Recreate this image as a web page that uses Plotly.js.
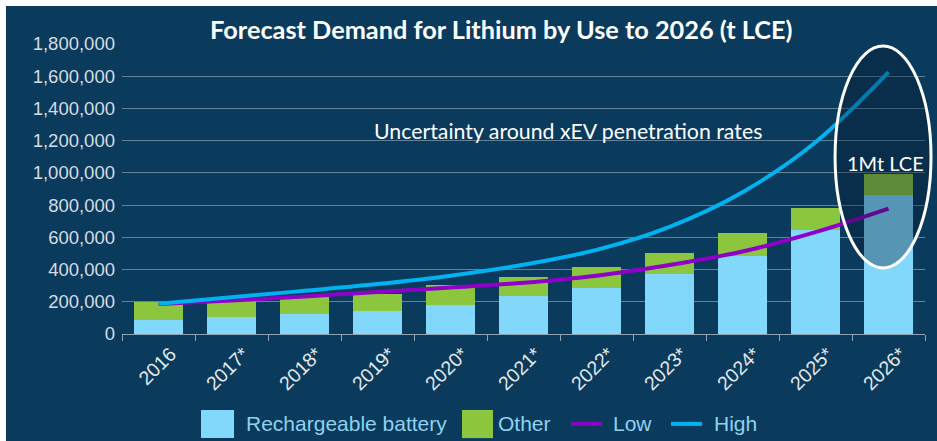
<!DOCTYPE html>
<html>
<head>
<meta charset="utf-8">
<script src="https://cdn.plot.ly/plotly-3.0.1.min.js"></script>
<style>
  body { margin: 0; background: #ffffff; }
  #chart { position: absolute; left: 6px; top: 6px; width: 931px; height: 435px; }
</style>
</head>
<body>
<div id="chart"></div>
<script>
// years on the x axis (* = forecast)
var years = ['2016', '2017*', '2018*', '2019*', '2020*', '2021*', '2022*', '2023*', '2024*', '2025*', '2026*'];

// stacked bars, t LCE
var battery = [85000, 104000, 122000, 140000, 180000, 233000, 288000, 372000, 482000, 643000, 860000];
var other = [115000, 101000, 106000, 110000, 125000, 123000, 130000, 128000, 143000, 137000, 135000];

// demand scenarios, t LCE
var low = [186000, 208000, 233000, 260000, 288000, 318000, 362000, 428000, 512000, 632000, 778000];
var high = [188000, 228000, 268000, 310000, 362000, 430000, 522000, 665000, 880000, 1190000, 1625000];

var yTicks = [0, 200000, 400000, 600000, 800000, 1000000, 1200000, 1400000, 1600000, 1800000];

var colBattery = '#82d8fb';
var colOther = '#8cc63f';
var colLow = '#8f00c9';
var colHigh = '#00b2f0';

var data = [
    { type: 'bar', name: 'Rechargeable battery', x: years, y: battery, marker: { color: colBattery } },
    { type: 'bar', name: 'Other', x: years, y: other, marker: { color: colOther } },
    { type: 'scatter', mode: 'lines', name: 'Low', x: years, y: low,
      line: { color: colLow, width: 4, shape: 'spline' } },
    { type: 'scatter', mode: 'lines', name: 'High', x: years, y: high,
      line: { color: colHigh, width: 4, shape: 'spline' } }
];

// legend drawn by hand so the swatches can be big squares like the original
var legendFont = { family: 'Arial', size: 21, color: '#8fd2ee' };
var legY = -0.31;
var legShapes = [
    { type: 'rect', xref: 'paper', yref: 'paper', x0: 0.0984, x1: 0.1395, y0: -0.262, y1: -0.359,
      fillcolor: colBattery, line: { width: 0 } },
    { type: 'rect', xref: 'paper', yref: 'paper', x0: 0.4234, x1: 0.4620, y0: -0.262, y1: -0.359,
      fillcolor: colOther, line: { width: 0 } },
    { type: 'line', xref: 'paper', yref: 'paper', x0: 0.5592, x1: 0.5978, y0: legY, y1: legY,
      line: { color: colLow, width: 4 } },
    { type: 'line', xref: 'paper', yref: 'paper', x0: 0.6837, x1: 0.7223, y0: legY, y1: legY,
      line: { color: colHigh, width: 4 } }
];
var legText = [[data[0].name, 0.152], [data[1].name, 0.466], [data[2].name, 0.609], [data[3].name, 0.735]];
var legAnn = legText.map(function (t) {
    return { text: t[0], xref: 'paper', yref: 'paper', x: t[1], y: legY,
             xanchor: 'left', yanchor: 'middle', showarrow: false, font: legendFont };
});

var layout = {
    width: 931,
    height: 435,
    margin: { l: 116, r: 12, t: 38, b: 107 },
    paper_bgcolor: '#0a3a5c',
    plot_bgcolor: '#0a3a5c',
    barmode: 'stack',
    bargap: 0.34,
    showlegend: false,
    title: {
        text: 'Forecast Demand for Lithium by Use to 2026 (t LCE)',
        font: { family: 'Lato', size: 25.3, color: '#ffffff', weight: 'bold' },
        x: 0.532, xanchor: 'center',
        y: 0.945, yanchor: 'middle'
    },
    xaxis: {
        type: 'category',
        automargin: false,
        tickangle: -45,
        tickfont: { family: 'Arial', size: 19.5, color: '#e4e8ec' },
        ticklabelshift: 12,
        showline: true, linecolor: '#8ea3b3', linewidth: 1,
        ticks: 'outside', tickson: 'boundaries', ticklen: 6, tickcolor: '#8ea3b3',
        showgrid: false
    },
    yaxis: {
        automargin: false,
        range: [0, 1800000],
        tickvals: yTicks,
        tickformat: ',d',
        tickfont: { family: 'Arial', size: 18.5, color: '#d6dce2' },
        gridcolor: '#62819a', gridwidth: 1,
        zeroline: false,
        ticklabelstandoff: 6
    },
    shapes: [
        {
            type: 'circle', xref: 'paper', yref: 'paper',
            x0: 0.888, x1: 1.0075, y0: 0.228, y1: 0.993,
            line: { color: '#ffffff', width: 3 },
            fillcolor: 'rgba(5,25,45,0.35)',
            layer: 'above'
        }
    ].concat(legShapes),
    annotations: [
        {
            text: 'Uncertainty around xEV penetration rates',
            xref: 'paper', yref: 'paper', x: 0.555, y: 0.70,
            xanchor: 'center', yanchor: 'middle',
            showarrow: false,
            font: { family: 'Lato', size: 21.3, color: '#ffffff' }
        },
        {
            text: '1Mt LCE',
            xref: 'paper', yref: 'paper', x: 0.951, y: 0.59,
            xanchor: 'center', yanchor: 'middle',
            showarrow: false,
            font: { family: 'Lato', size: 20, color: '#ffffff' }
        }
    ].concat(legAnn)
};

Plotly.newPlot('chart', data, layout, { displayModeBar: false, staticPlot: true });
</script>
</body>
</html>
